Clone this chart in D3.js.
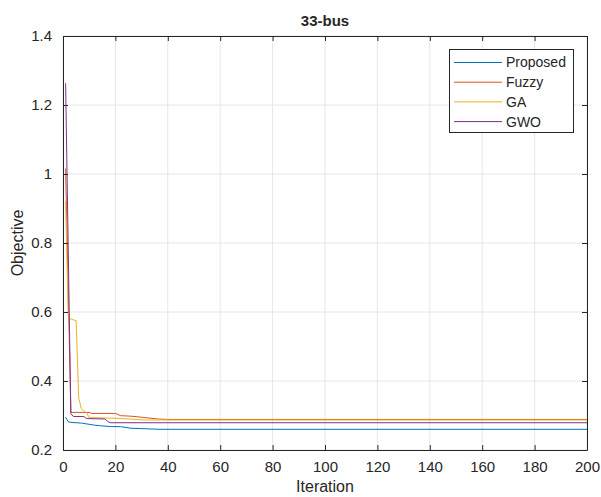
<!DOCTYPE html>
<html><head><meta charset="utf-8">
<script src="https://cdn.jsdelivr.net/npm/d3@7/dist/d3.min.js"></script>
<style>body{margin:0;background:#fff}svg{display:block}text{font-family:"Liberation Sans",Arial,sans-serif;fill:#262626}</style>
</head><body><svg id="c" width="601" height="497"></svg>
<script>
const title = "33-bus";
const xLabel = "Iteration";
const yLabel = "Objective";
const xTicks = [0,20,40,60,80,100,120,140,160,180,200];
const yTicks = [0.2,0.4,0.6,0.8,1.0,1.2,1.4];
const seriesNames = ["Proposed","Fuzzy","GA","GWO"];
const seriesColors = ["#0072BD","#D95319","#EDB120","#7E2F8E"];
// breakpoints [iteration, objective]
const proposed = [[1,0.295],[2,0.282],[3,0.280],[5,0.279],[7,0.278],[10,0.2745],[12,0.272],[14,0.2705],[18,0.268],[22,0.2676],[26,0.263],[30,0.262],[37,0.260],[200,0.260]];
const fuzzy = [[1,1.016],[2,0.66],[3,0.309],[10,0.309],[11,0.306],[20,0.306],[22,0.2995],[26,0.298],[30,0.295],[36,0.290],[40,0.2885],[200,0.2885]];
const ga = [[1,0.92],[2,0.585],[3,0.58],[4,0.577],[5,0.575],[6,0.35],[7,0.32],[8,0.312],[9,0.308],[10,0.294],[20,0.292],[25,0.29],[31,0.287],[200,0.287]];
const gwo = [[1,1.263],[2,0.78],[3,0.305],[4,0.297],[8,0.297],[9,0.291],[16,0.290],[17,0.283],[18,0.279],[200,0.279]];
const allSeries = [proposed, fuzzy, ga, gwo];

const svg = d3.select("#c");
const L=63, R=587, T=36, B=450;
const x = d3.scaleLinear().domain([0,200]).range([L,R]);
const y = d3.scaleLinear().domain([0.2,1.4]).range([B,T]);

// grid
svg.append("g").selectAll("line").data(xTicks).join("line")
  .attr("x1",d=>x(d)).attr("x2",d=>x(d)).attr("y1",T).attr("y2",B)
  .attr("stroke","#e6e6e6").attr("stroke-width",1);
svg.append("g").selectAll("line").data(yTicks).join("line")
  .attr("y1",d=>y(d)).attr("y2",d=>y(d)).attr("x1",L).attr("x2",R)
  .attr("stroke","#e6e6e6").attr("stroke-width",1);

// lines
const line = d3.line().x(d=>x(d[0])).y(d=>y(d[1]));
allSeries.forEach((s,i)=>{
  svg.append("path").datum(s).attr("d",line).attr("fill","none")
    .attr("stroke",seriesColors[i]).attr("stroke-width",1);
});

// axes
const fmtY = d=>d3.format("")(+d.toFixed(1));
const ax = svg.append("g").attr("transform",`translate(0,${B})`)
  .call(d3.axisBottom(x).tickValues(xTicks).tickSizeInner(-5).tickSizeOuter(0).tickPadding(11));
const axT = svg.append("g").attr("transform",`translate(0,${T})`)
  .call(d3.axisTop(x).tickValues(xTicks).tickSizeInner(-5).tickSizeOuter(0).tickFormat(""));
const ay = svg.append("g").attr("transform",`translate(${L},0)`)
  .call(d3.axisLeft(y).tickValues(yTicks).tickFormat(fmtY).tickSizeInner(-5).tickSizeOuter(0).tickPadding(11));
const ayR = svg.append("g").attr("transform",`translate(${R},0)`)
  .call(d3.axisRight(y).tickValues(yTicks).tickSizeInner(-5).tickSizeOuter(0).tickFormat(""));
[ax,axT,ay,ayR].forEach(g=>{
  g.selectAll("path,line").attr("stroke","#262626");
  g.select(".domain").attr("stroke-width",1);
  g.selectAll("text").style("font-size","15px").style("font-family","'Liberation Sans',Arial,sans-serif").attr("fill","#262626");
});
ax.selectAll("text").attr("dy","0.71em");

// labels
svg.append("text").attr("x",(L+R)/2).attr("y",26).attr("text-anchor","middle")
  .style("font-size","15px").style("font-weight","bold").text(title);
svg.append("text").attr("x",(L+R)/2).attr("y",492).attr("text-anchor","middle")
  .style("font-size","16px").text(xLabel);
svg.append("text").attr("transform",`translate(23,${(T+B)/2}) rotate(-90)`).attr("text-anchor","middle")
  .style("font-size","16px").text(yLabel);

// legend
const lg = svg.append("g");
lg.append("rect").attr("x",449.5).attr("y",49.5).attr("width",124).attr("height",83)
  .attr("fill","#fff").attr("stroke","#262626").attr("stroke-width",1);
seriesNames.forEach((n,i)=>{
  const yy = 62.5 + i*19.7;
  lg.append("line").attr("x1",454).attr("x2",502).attr("y1",yy).attr("y2",yy)
    .attr("stroke",seriesColors[i]).attr("stroke-width",1);
  lg.append("text").attr("x",506).attr("y",yy).attr("dy","0.35em")
    .style("font-size","14px").text(n);
});
</script></body></html>
